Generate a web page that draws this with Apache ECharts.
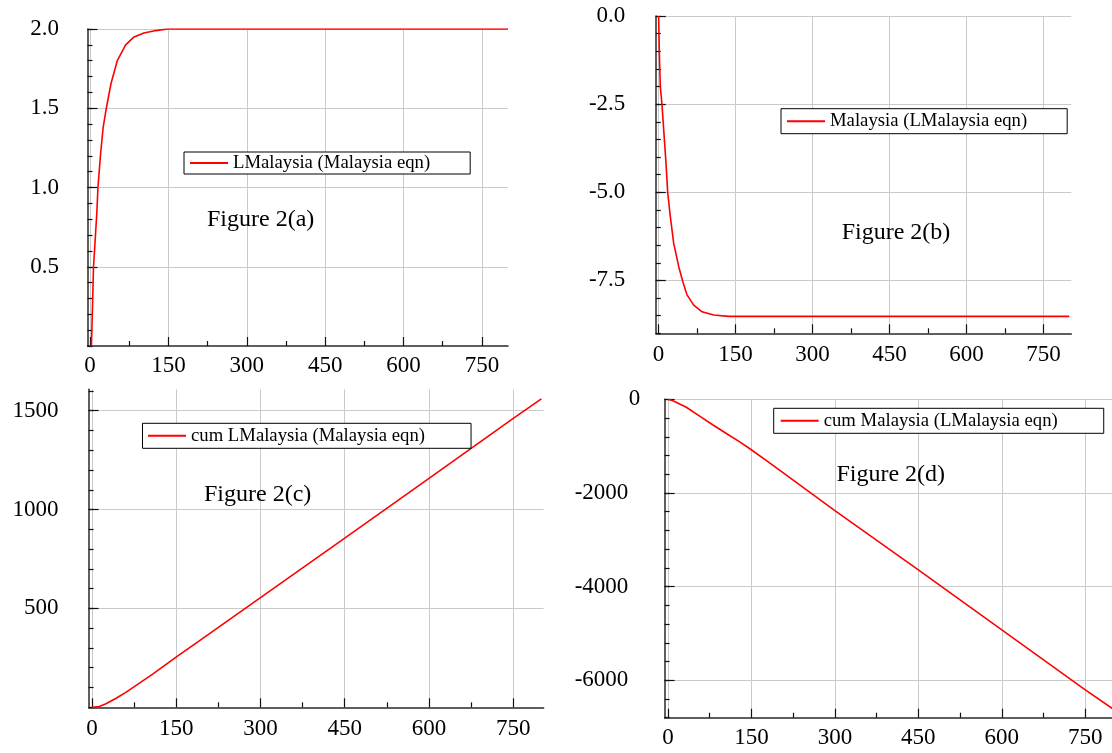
<!DOCTYPE html>
<html><head><meta charset="utf-8">
<script src="https://cdn.jsdelivr.net/npm/echarts@6/dist/echarts.min.js"></script>
<style>html,body{margin:0;padding:0;background:#fff}#c{width:1112px;height:753px}</style>
</head><body><div id="c"></div>
<script>
// ---- data ----
const periodsA = [2.5, 4.5, 6.5, 10, 13, 15, 20, 25, 31, 40, 52, 68, 84, 103, 126, 148, 800];
const valuesA  = [0, 0.24, 0.50, 0.685, 0.85, 1.0, 1.21, 1.38, 1.50, 1.656, 1.80, 1.90, 1.95, 1.975, 1.99, 2.0, 2.0];
const periodsB = [0, 1.4, 3.3, 6.6, 9.9, 14.4, 17.7, 22.8, 29.4, 39.2, 47, 55.3, 68.4, 84.6, 107.4, 136.6, 800];
const valuesB  = [0, -1.06, -2.0, -2.52, -3.23, -4.18, -5.01, -5.69, -6.45, -7.11, -7.53, -7.91, -8.2, -8.39, -8.48, -8.52, -8.52];
const periodsC = [0, 13, 25, 43, 61, 78, 108, 151, 191, 300, 450, 600, 750, 800];
const valuesC  = [0, 4, 18, 46, 77, 110, 168, 256, 336, 555, 855, 1158, 1461, 1560];
const periodsD = [0, 9, 33, 57, 81, 105, 129, 148.5, 177, 195, 300, 450, 600, 750, 800];
const valuesD  = [0, -30, -170, -360, -549, -730, -910, -1067, -1310, -1465, -2378, -3643, -4924, -6205, -6615];

const seriesNames = ['LMalaysia (Malaysia eqn)', 'Malaysia (LMalaysia eqn)',
                     'cum LMalaysia (Malaysia eqn)', 'cum Malaysia (LMalaysia eqn)'];
const figureLabels = ['Figure 2(a)', 'Figure 2(b)', 'Figure 2(c)', 'Figure 2(d)'];

const xTickLabels = [0, 150, 300, 450, 600, 750];
const xMinorTicks = [75, 225, 375, 525, 675];
const yTicksA = [0.5, 1.0, 1.5, 2.0];
const yTicksB = [0, -2.5, -5.0, -7.5];
const yTicksC = [500, 1000, 1500];
const yTicksD = [0, -2000, -4000, -6000];

// ---- layout ----
const FONT = 'Liberation Serif';
function steps(a, b, s) { const out = []; const n = Math.round((b - a) / s); for (let k = 0; k <= n; k++) out.push(+(a + k * s).toFixed(6)); return out; }

const panels = [
  { periods: periodsA, values: valuesA, yTicks: yTicksA, grid: {left: 87.5, top: 29, width: 420.5, height: 317},
    x: [-5, 800], y: [0, 2], yMinor: 0.1, dec: 1, yMargin: 28.5, xMargin: 8,
    legend: {left: 184, top: 152, padding: [1, 40, 1, 6]}, fig: {left: 207, top: 208} },
  { periods: periodsB, values: valuesB, yTicks: yTicksB, grid: {left: 655.8, top: 16, width: 415.5, height: 317.3},
    x: [-5.5, 804], y: [-9, 0], yMinor: 0.5, dec: 1, yMargin: 30.5, xMargin: 10,
    legend: {left: 781, top: 108.7, padding: [2.5, 40, 2.5, 6]}, fig: {left: 841.7, top: 221} },
  { periods: periodsC, values: valuesC, yTicks: yTicksC, grid: {left: 88.6, top: 389.3, width: 455, height: 318},
    x: [-6, 804], y: [0, 1608], yMinor: 100, dec: 0, yMargin: 30, xMargin: 10,
    legend: {left: 142.5, top: 423.3, padding: [2.5, 46, 2.5, 5.5]}, fig: {left: 204, top: 483} },
  { periods: periodsD, values: valuesD, yTicks: yTicksD, grid: {left: 664.6, top: 399.3, width: 447.4, height: 318.4},
    x: [-6, 798], y: [-6800, 0], yMinor: 400, dec: 0, yMargin: 24.3, xMargin: 9, padNonZero: 12,
    legend: {left: 773.7, top: 408.3, padding: [2.5, 46, 2.5, 7]}, fig: {left: 836.4, top: 463} }
];

const AXIS_COLOR = '#2a2a2a', GRID_COLOR = '#cacaca';
const option = { animation: false, backgroundColor: '#fff',
  grid: [], xAxis: [], yAxis: [], series: [], legend: [], title: [] };

panels.forEach((p, i) => {
  option.grid.push(Object.assign({containLabel: false, outerBoundsMode: 'none'}, p.grid));
  const base = {gridIndex: i, type: 'value', scale: true};
  option.xAxis.push(Object.assign({}, base, {
    min: p.x[0], max: p.x[1], position: 'bottom',
    axisLine: {show: true, onZero: false, lineStyle: {color: AXIS_COLOR, width: 1.5}},
    axisTick: {show: true, inside: true, length: 9, customValues: xTickLabels, lineStyle: {color: '#111', width: 1.2}},
    axisLabel: {show: true, customValues: xTickLabels, margin: p.xMargin, color: '#000', fontFamily: FONT, fontSize: 23,
      formatter: v => String(Math.round(v))},
    splitLine: {show: true, lineStyle: {color: GRID_COLOR, width: 1}}
  }));
  option.xAxis.push(Object.assign({}, base, {
    min: p.x[0], max: p.x[1], position: 'bottom',
    axisLine: {show: false, onZero: false},
    axisTick: {show: true, inside: true, length: 5, customValues: xMinorTicks, lineStyle: {color: '#111', width: 1.2}},
    axisLabel: {show: false}, splitLine: {show: false}
  }));
  const rich = {n: {padding: [0, p.padNonZero || 0, 0, 0], fontFamily: FONT, fontSize: 23, color: '#000'}};
  option.yAxis.push(Object.assign({}, base, {
    min: p.y[0], max: p.y[1], position: 'left',
    axisLine: {show: true, onZero: false, lineStyle: {color: AXIS_COLOR, width: 1.5}},
    axisTick: {show: true, inside: true, length: 10, customValues: p.yTicks, lineStyle: {color: '#111', width: 1.2}},
    axisLabel: {show: true, customValues: p.yTicks, margin: p.yMargin, color: '#000', fontFamily: FONT, fontSize: 23, rich: rich,
      formatter: v => { const s = v.toFixed(p.dec); return (p.padNonZero && v !== 0) ? '{n|' + s + '}' : s; }},
    splitLine: {show: true, lineStyle: {color: GRID_COLOR, width: 1}}
  }));
  option.yAxis.push(Object.assign({}, base, {
    min: p.y[0], max: p.y[1], position: 'left',
    axisLine: {show: false, onZero: false},
    axisTick: {show: true, inside: true, length: 5, customValues: steps(p.y[0], p.y[1], p.yMinor), lineStyle: {color: '#111', width: 1.2}},
    axisLabel: {show: false}, splitLine: {show: false}
  }));
  option.series.push({
    name: seriesNames[i], type: 'line', xAxisIndex: 2 * i, yAxisIndex: 2 * i,
    data: p.periods.map((x, k) => [x, p.values[k]]),
    symbol: 'none', showSymbol: false, clip: true, smooth: false,
    lineStyle: {color: '#ff0000', width: 1.6}, itemStyle: {color: '#ff0000'}
  });
  option.legend.push({
    data: [seriesNames[i]], left: p.legend.left, top: p.legend.top, padding: p.legend.padding,
    orient: 'horizontal', icon: 'rect', itemWidth: 38, itemHeight: 2, selectedMode: false,
    itemStyle: {color: '#ff0000', borderWidth: 0},
    backgroundColor: '#fff', borderColor: '#000', borderWidth: 1, borderRadius: 0,
    textStyle: {fontFamily: FONT, fontSize: 18.7, color: '#000', lineHeight: 20}
  });
  option.title.push({
    text: figureLabels[i], left: p.fig.left, top: p.fig.top, padding: 0,
    textStyle: {fontFamily: FONT, fontSize: 24, fontWeight: 'normal', color: '#000'}
  });
});

const chart = echarts.init(document.getElementById('c'), null, {renderer: 'canvas', width: 1112, height: 753});
chart.setOption(option);
</script></body></html>
